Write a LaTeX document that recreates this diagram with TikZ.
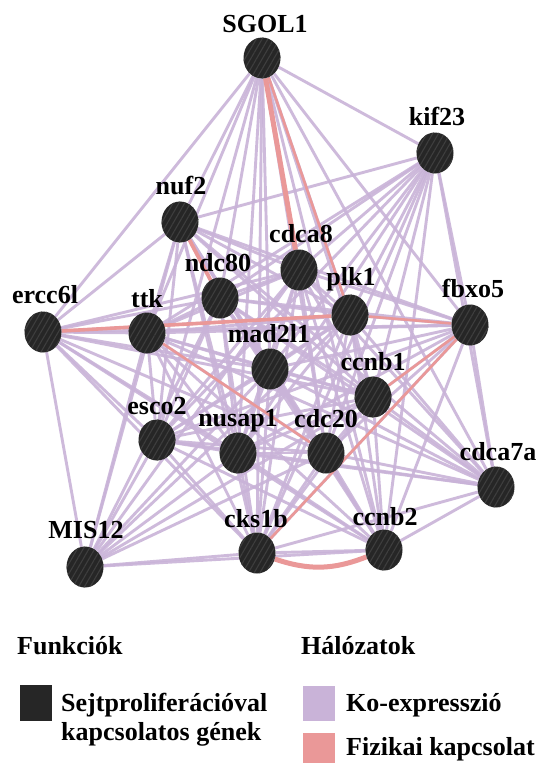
\documentclass[tikz,border=0pt]{standalone}
\usepackage{fontspec}
\setmainfont{Liberation Serif}
\usetikzlibrary{shapes.geometric,backgrounds,patterns.meta}
\definecolor{coexp}{RGB}{201,179,216}
\definecolor{phys}{RGB}{234,152,152}
\definecolor{gene}{RGB}{38,38,38}
\definecolor{stripe}{RGB}{62,62,62}
\tikzset{
  gnode/.style={ellipse, fill=gene, minimum width=37pt, minimum height=41pt, inner sep=0pt,
    postaction={pattern={Lines[angle=60,distance=5pt,line width=1.1pt]}, pattern color=stripe}},
  lbl/.style={font=\fontsize{26}{30}\selectfont\bfseries, inner sep=0pt, anchor=base},
  leg/.style={font=\fontsize{26}{30}\selectfont\bfseries, inner sep=0pt, anchor=base west},
  coline/.style={draw=coexp, line width=2.9pt, opacity=0.9},
  phline/.style={draw=phys, line width=2.6pt},
  phthick/.style={draw=phys, line width=5pt},
}
\begin{document}
\begin{tikzpicture}[x=1pt,y=-1pt]
\useasboundingbox (0,0) rectangle (542,763);
% gene nodes
\node[gnode] (sgol)  at (262,58)  {};
\node[gnode] (kif)   at (435,153) {};
\node[gnode] (nuf)   at (180,222) {};
\node[gnode] (cdca8) at (299,270) {};
\node[gnode] (ndc)   at (220,298) {};
\node[gnode] (plk)   at (350,315) {};
\node[gnode] (fbxo)  at (470,325) {};
\node[gnode] (ercc)  at (43,332)  {};
\node[gnode] (ttk)   at (147,333) {};
\node[gnode] (mad)   at (270,369) {};
\node[gnode] (ccnb1) at (373,397) {};
\node[gnode] (esco)  at (157,440) {};
\node[gnode] (nusap) at (238,453) {};
\node[gnode] (cdc20) at (326,453) {};
\node[gnode] (cdca7) at (496,487) {};
\node[gnode] (mis)   at (85,567)  {};
\node[gnode] (cks)   at (257,553) {};
\node[gnode] (ccnb2) at (384,550) {};
% labels
\node[lbl] (l-sgol)  at (265,32)  {SGOL1};
\node[lbl] (l-kif)   at (437,125) {kif23};
\node[lbl] (l-nuf)   at (181,194) {nuf2};
\node[lbl] (l-cdca8) at (301,242) {cdca8};
\node[lbl] (l-ndc)   at (218,271) {ndc80};
\node[lbl] (l-plk)   at (351,285) {plk1};
\node[lbl] (l-fbxo)  at (473,297) {fbxo5};
\node[lbl] (l-ercc)  at (45,303)  {ercc6l};
\node[lbl] (l-ttk)   at (147,307) {ttk};
\node[lbl] (l-mad)   at (269,342) {mad2l1};
\node[lbl] (l-ccnb1) at (373,370) {ccnb1};
\node[lbl] (l-esco)  at (157,414) {esco2};
\node[lbl] (l-nusap) at (238,426) {nusap1};
\node[lbl] (l-cdc20) at (326,427) {cdc20};
\node[lbl] (l-cdca7) at (498,460) {cdca7a};
\node[lbl] (l-ccnb2) at (385,525) {ccnb2};
\node[lbl] (l-cks)   at (256,527) {cks1b};
\node[lbl] (l-mis)   at (86,538)  {MIS12};
% edges
\begin{scope}[on background layer]
\fill[white] (0,0) rectangle (542,763);
\foreach \a/\b in {
 sgol/kif, sgol/nuf, sgol/cdca8, sgol/ndc, sgol/plk, sgol/fbxo, sgol/ercc, sgol/ttk, sgol/mad, sgol/ccnb1, sgol/esco, sgol/nusap, sgol/cdc20, sgol/cdca7, sgol/cks, sgol/ccnb2,
 kif/nuf, kif/cdca8, kif/ndc, kif/plk, kif/fbxo, kif/ttk, kif/mad, kif/ccnb1, kif/esco, kif/nusap, kif/cdc20, kif/cdca7, kif/cks, kif/ccnb2,
 nuf/cdca8, nuf/ndc, nuf/plk, nuf/fbxo, nuf/ercc, nuf/ttk, nuf/mad, nuf/ccnb1, nuf/esco, nuf/nusap, nuf/cdc20, nuf/cdca7, nuf/mis, nuf/cks, nuf/ccnb2,
 cdca8/ndc, cdca8/plk, cdca8/fbxo, cdca8/ercc, cdca8/ttk, cdca8/mad, cdca8/ccnb1, cdca8/esco, cdca8/nusap, cdca8/cdc20, cdca8/cdca7, cdca8/mis, cdca8/cks, cdca8/ccnb2,
 ndc/plk, ndc/fbxo, ndc/ercc, ndc/ttk, ndc/mad, ndc/ccnb1, ndc/esco, ndc/nusap, ndc/cdc20, ndc/cdca7, ndc/mis, ndc/cks, ndc/ccnb2,
 plk/fbxo, plk/ercc, plk/ttk, plk/mad, plk/ccnb1, plk/esco, plk/nusap, plk/cdc20, plk/cdca7, plk/mis, plk/cks, plk/ccnb2,
 fbxo/ercc, fbxo/ttk, fbxo/mad, fbxo/ccnb1, fbxo/esco, fbxo/nusap, fbxo/cdc20, fbxo/cdca7, fbxo/cks, fbxo/ccnb2,
 ercc/ttk, ercc/mad, ercc/ccnb1, ercc/esco, ercc/nusap, ercc/cdc20, ercc/mis, ercc/cks, ercc/ccnb2,
 ttk/mad, ttk/ccnb1, ttk/esco, ttk/nusap, ttk/cdc20, ttk/cdca7, ttk/mis, ttk/cks, ttk/ccnb2,
 mad/ccnb1, mad/esco, mad/nusap, mad/cdc20, mad/cdca7, mad/mis, mad/cks, mad/ccnb2,
 ccnb1/esco, ccnb1/nusap, ccnb1/cdc20, ccnb1/cdca7, ccnb1/mis, ccnb1/cks, ccnb1/ccnb2,
 esco/nusap, esco/cdc20, esco/cdca7, esco/mis, esco/cks, esco/ccnb2,
 nusap/cdc20, nusap/cdca7, nusap/mis, nusap/cks, nusap/ccnb2,
 cdc20/cdca7, cdc20/mis, cdc20/cks, cdc20/ccnb2,
 cdca7/cks, cdca7/ccnb2, mis/cks, mis/ccnb2, cks/ccnb2}
 \draw[coline] (\a) -- (\b);
% physical interactions
\draw[phthick] (sgol) -- (cdca8);
\draw[phline] (sgol) -- (plk);
\draw[phline, line width=3.8pt] (nuf) -- (ndc);
\draw[phline, line width=3.6pt] (ercc) -- (plk);
\draw[phline] (ttk) -- (cdc20);
\draw[phline] (plk) -- (fbxo);
\draw[phline] (ccnb1) -- (fbxo);
\draw[phline] (cks) -- (fbxo);
\draw[phthick] (cks) to[bend right=20] (ccnb2);
\end{scope}
% legend
\node[leg] (funk) at (17,654) {Funkciók};
\node[leg] (hal)  at (301,654) {Hálózatok};
\node[fill=gene, minimum width=32pt, minimum height=36pt, inner sep=0pt, anchor=north west] (sq1) at (20,685) {};
\node[leg] (t1a) at (61,711) {Sejtproliferációval};
\node[leg] (t1b) at (61,740) {kapcsolatos gének};
\node[fill=coexp, minimum width=32pt, minimum height=35pt, inner sep=0pt, anchor=north west] (sq2) at (303,686) {};
\node[leg] (t2) at (346,711) {Ko-expresszió};
\node[fill=phys, minimum width=32pt, minimum height=34pt, inner sep=0pt, anchor=north west] (sq3) at (303,733) {};
\node[leg] (t3) at (346,755) {Fizikai kapcsolat};
\end{tikzpicture}
\end{document}
